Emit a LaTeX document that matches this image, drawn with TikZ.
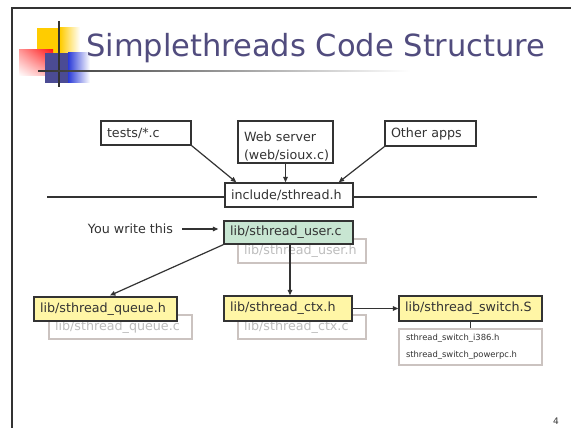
\documentclass[tikz,border=0pt]{standalone}
\usepackage{fontspec}
\setmainfont{DejaVu Sans}
\usetikzlibrary{arrows.meta,calc,shadings}

\definecolor{ink}{HTML}{333333}
\definecolor{titlecol}{HTML}{514C7E}
\definecolor{ghostline}{HTML}{CBC3C0}
\definecolor{ghosttext}{HTML}{BDBDBD}
\definecolor{notefill}{HTML}{FFF6A6}
\definecolor{mintfill}{HTML}{C8E6D2}
\definecolor{logoyellow}{HTML}{FFCC00}
\definecolor{logored}{HTML}{FF1A1A}
\definecolor{logoblue}{HTML}{4B4B94}
\definecolor{logobright}{HTML}{2A3AD8}

\tikzset{
  box/.style={draw=ink, line width=1.3pt, fill=white, text=ink,
    font=\fontsize{12.7}{18}\selectfont, inner xsep=6pt, inner ysep=0pt,
    align=left},
  ghost/.style={box, draw=ghostline, line width=1.2pt, text=ghosttext},
  tiny/.style={font=\fontsize{8.4}{17}\selectfont, text=ink},
  conn/.style={draw=ink, line width=1.2pt,
    -{Triangle[length=5.5pt,width=4.5pt]}},
  plainline/.style={draw=ink, line width=1.2pt},
}

\begin{document}
\begin{tikzpicture}[x=1pt,y=-1pt]
\useasboundingbox (0,0) rectangle (571,428);
\fill[white] (0,0) rectangle (571,428);

% slide frame
\draw[ink, line width=2.2pt] (12,428) -- (12,8) -- (571,8);

% logo squares
\fill[logoyellow] (37,28) rectangle (60,53);
\shade[left color=logoyellow, right color=white] (60,28) rectangle (80,53);
\shade[upper left=logored!45!white, upper right=logored,
       lower left=white, lower right=logored!35!white] (19,50) rectangle (53,76);
\fill[logoblue] (45,53) rectangle (68,83);
\shade[left color=logobright, right color=white] (68,53) rectangle (90,83);
\draw[ink, line width=1.5pt] (59,21) -- (59,87);

% title underline fading out to the right
\shade[left color=ink, right color=white] (38,70.3) rectangle (410,71.7);

% title
\node[anchor=base west, inner sep=0pt, text=titlecol,
      font=\fontsize{30.5}{36}\selectfont] (title) at (86,57)
      {Simplethreads Code Structure};

% interface bar
\coordinate (barL) at (47,197);
\coordinate (barR) at (537,197);
\draw[plainline, line width=1.4pt] (barL) -- (barR);

% clients
\node[box, text width=78pt, minimum height=24pt] (tests) at (146,133) {tests/*.c};
\node[box, text width=83pt, minimum height=42pt] (web) at (285.5,142) {\rule{0pt}{19pt}Web server\\(web/sioux.c)};
\node[box, text width=79pt, minimum height=25pt] (other) at (430.5,133.5) {Other apps};
\node[box, text width=116pt, minimum height=24pt] (incl) at (289,195) {include/sthread.h};

% library files
\node[ghost, text width=116pt, minimum height=24pt] (userh) at (302,251) {lib/sthread\_user.h};
\node[box, fill=mintfill, text width=117pt, minimum height=23pt] (userc) at (288.5,232.5) {lib/sthread\_user.c};

\node[ghost, text width=131pt, minimum height=24pt] (queuec) at (120.5,327) {lib/sthread\_queue.c};
\node[box, fill=notefill, text width=131pt, minimum height=24pt] (queueh) at (105.5,309) {lib/sthread\_queue.h};

\node[ghost, text width=116pt, minimum height=24pt] (ctxc) at (302,327) {lib/sthread\_ctx.c};
\node[box, fill=notefill, text width=116pt, minimum height=25pt] (ctxh) at (288,308.5) {lib/sthread\_ctx.h};

\node[box, fill=notefill, text width=131pt, minimum height=25pt] (switchS) at (470.5,308.5) {lib/sthread\_switch.S};
\node[ghost, tiny, text width=129pt, inner xsep=7pt, minimum height=36pt] (variants) at (470.5,347)
  {sthread\_switch\_i386.h\\sthread\_switch\_powerpc.h};

% note
\node[inner sep=0pt, text=ink, font=\fontsize{12.7}{15}\selectfont] (note) at (130.5,229) {You write this};

% connectors
\coordinate (notetail) at ($(note.east)+(9,0)$);
\coordinate (userdrop) at ($(userc.south)+(1.5,0)$);
\coordinate (queuetop) at ($(queueh.north)+(2.5,0)$);
\draw[conn] (tests.south east) -- ($(incl.north west)+(12,0)$);
\draw[conn] (web.south) -- (web.south |- incl.north);
\draw[conn] (other.south west) -- ($(incl.north east)+(-15,0)$);
\draw[conn, shorten >=5pt] (notetail) -- (notetail -| userc.west);
\draw[conn, shorten >=2pt] (userc.south west) -- (queuetop);
\draw[conn] (userdrop) -- (userdrop |- ctxh.north);
\draw[conn] (ctxh.east) -- (switchS.west);
\draw[plainline] (switchS.south) -- (variants.north);

% page number
\node[text=ink, font=\fontsize{9}{10}\selectfont] (pageno) at (556,421) {4};
\end{tikzpicture}
\end{document}
